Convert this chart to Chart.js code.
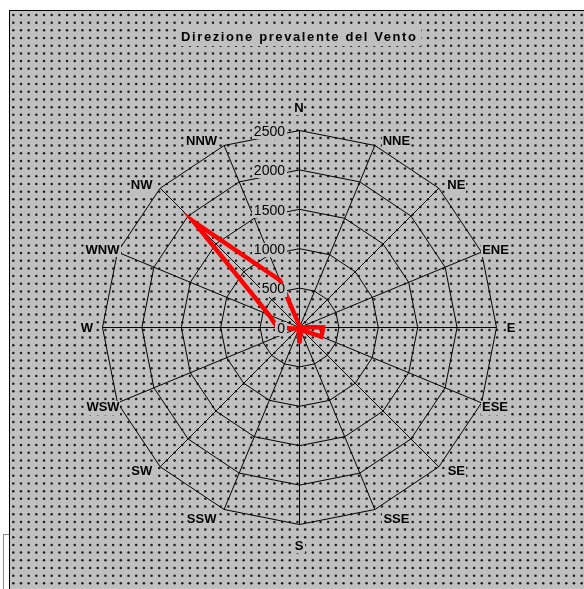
<!DOCTYPE html>
<html>
<head>
<meta charset="utf-8">
<style>
  html, body { margin: 0; padding: 0; background: #ffffff; overflow: hidden; }
  #wrap { position: absolute; left: 0; top: 0; width: 584px; height: 589px; }
</style>
<script src="https://cdn.jsdelivr.net/npm/chart.js@4.4.1/dist/chart.umd.min.js"></script>
</head>
<body>
<div id="wrap"><canvas id="windRose" width="584" height="589"></canvas></div>
<script>
// Wind directions, clockwise from north
const directions = ['N', 'NNE', 'NE', 'ENE', 'E', 'ESE', 'SE', 'SSE', 'S', 'SSW', 'SW', 'WSW', 'W', 'WNW', 'NW', 'NNW'];
// Number of observations per direction
const windCounts = [20, 10, 10, 20, 300, 300, 50, 40, 200, 30, 20, 40, 280, 420, 1900, 650];
// Radial axis values
const scaleTicks = [0, 500, 1000, 1500, 2000, 2500];
const chartTitle = 'Direzione prevalente del Vento';

// Offset of each direction label from its outer ring vertex
const labelShift = [
  [0, -22], [22, -4], [18, -2], [14.5, -1.5], [15, 1], [14, 5.5], [18, 5.5], [22, 10],
  [0, 22], [-22, 10], [-18, 5.5], [-14, 5.5], [-15, 1], [-14.5, -1.5], [-18, -2], [-22, -4]
];

const PANEL = '#c0c0c0';
const DOT = { step: 7.68, x0: 13.3, y0: 15 };
const FONT = '"Liberation Sans", Arial, Helvetica, sans-serif';

// Grey dotted panel with a black frame on the left and top
function paintPanel(ctx, w, h) {
  ctx.fillStyle = '#ffffff';
  ctx.fillRect(0, 0, w, h);
  ctx.fillStyle = PANEL;
  ctx.fillRect(10, 11, w - 10, h - 11);
  ctx.fillStyle = '#1c1c1c';
  for (let y = DOT.y0; y < h + 2; y += DOT.step) {
    for (let x = DOT.x0; x < w + 2; x += DOT.step) {
      ctx.beginPath();
      ctx.arc(x, y, 1.25, 0, Math.PI * 2);
      ctx.fill();
    }
  }
  ctx.fillStyle = '#000000';
  ctx.fillRect(9, 10, 1, h - 10);
  ctx.fillRect(9, 10, w - 9, 1);
  ctx.fillStyle = '#8a8a8a';
  ctx.fillRect(3, 534, 1, h - 534);
  ctx.fillRect(3, 534, 6, 1);
}

// Text on an opaque panel-coloured box
function boxedText(ctx, text, cx, cy, align, padX, halfH) {
  const w = ctx.measureText(text).width;
  let left = cx - w / 2;
  if (align === 'right') left = cx - w;
  ctx.fillStyle = PANEL;
  ctx.fillRect(Math.round(left - padX), Math.round(cy - halfH), Math.round(w + 2 * padX), Math.round(2 * halfH));
  ctx.fillStyle = '#000000';
  ctx.textAlign = align;
  ctx.textBaseline = 'middle';
  ctx.fillText(text, cx, cy);
}

const roseDecor = {
  id: 'roseDecor',
  beforeDraw(chart) {
    const ctx = chart.ctx;
    paintPanel(ctx, chart.width, chart.height);
    ctx.save();
    ctx.translate(0.5, 0.5);
  },
  afterDraw(chart) {
    const ctx = chart.ctx;
    ctx.restore();
    const r = chart.scales.r;
    ctx.save();

    // value labels along the north spoke
    ctx.font = '14px ' + FONT;
    r.ticks.forEach(t => {
      const y = r.yCenter - r.getDistanceFromCenterForValue(t.value) + 2;
      boxedText(ctx, String(t.value), r.xCenter - 14, y, 'right', 2, 7);
    });

    // direction labels
    ctx.font = 'bold 13px ' + FONT;
    r.getLabels().forEach((lbl, i) => {
      const p = r.getPointPosition(i, r.drawingArea);
      boxedText(ctx, lbl, p.x + labelShift[i][0], p.y + labelShift[i][1], 'center', 1, 7);
    });

    // title
    ctx.font = 'bold 13px ' + FONT;
    ctx.letterSpacing = '1.6px';
    const tw = ctx.measureText(chartTitle).width;
    const tx = 298.5;
    ctx.fillStyle = PANEL;
    ctx.fillRect(Math.round(tx - tw / 2 - 4), 26, Math.round(tw + 8), 20);
    ctx.fillStyle = '#000000';
    ctx.textAlign = 'left';
    ctx.textBaseline = 'alphabetic';
    ctx.fillText(chartTitle, tx - tw / 2 + 0.8, 40.7);
    ctx.restore();
  }
};

new Chart(document.getElementById('windRose'), {
  type: 'radar',
  data: {
    labels: directions,
    datasets: [{
      data: windCounts,
      borderColor: '#ff0000',
      borderWidth: 4.5,
      borderJoinStyle: 'miter',
      fill: false,
      tension: 0,
      pointRadius: 0,
      pointHoverRadius: 0
    }]
  },
  options: {
    responsive: false,
    devicePixelRatio: 1,
    animation: false,
    events: [],
    layout: { padding: { left: 102, right: 88, top: 130, bottom: 65 } },
    plugins: {
      legend: { display: false },
      tooltip: { enabled: false },
      title: { display: false }
    },
    scales: {
      r: {
        min: 0,
        max: 2500,
        startAngle: 0,
        afterBuildTicks: s => { s.ticks = scaleTicks.map(v => ({ value: v })); },
        ticks: { display: false, stepSize: 500 },
        pointLabels: { display: false },
        grid: { color: '#000000', lineWidth: 1, circular: false },
        angleLines: { color: '#000000', lineWidth: 1 }
      }
    }
  },
  plugins: [roseDecor]
});
</script>
</body>
</html>
